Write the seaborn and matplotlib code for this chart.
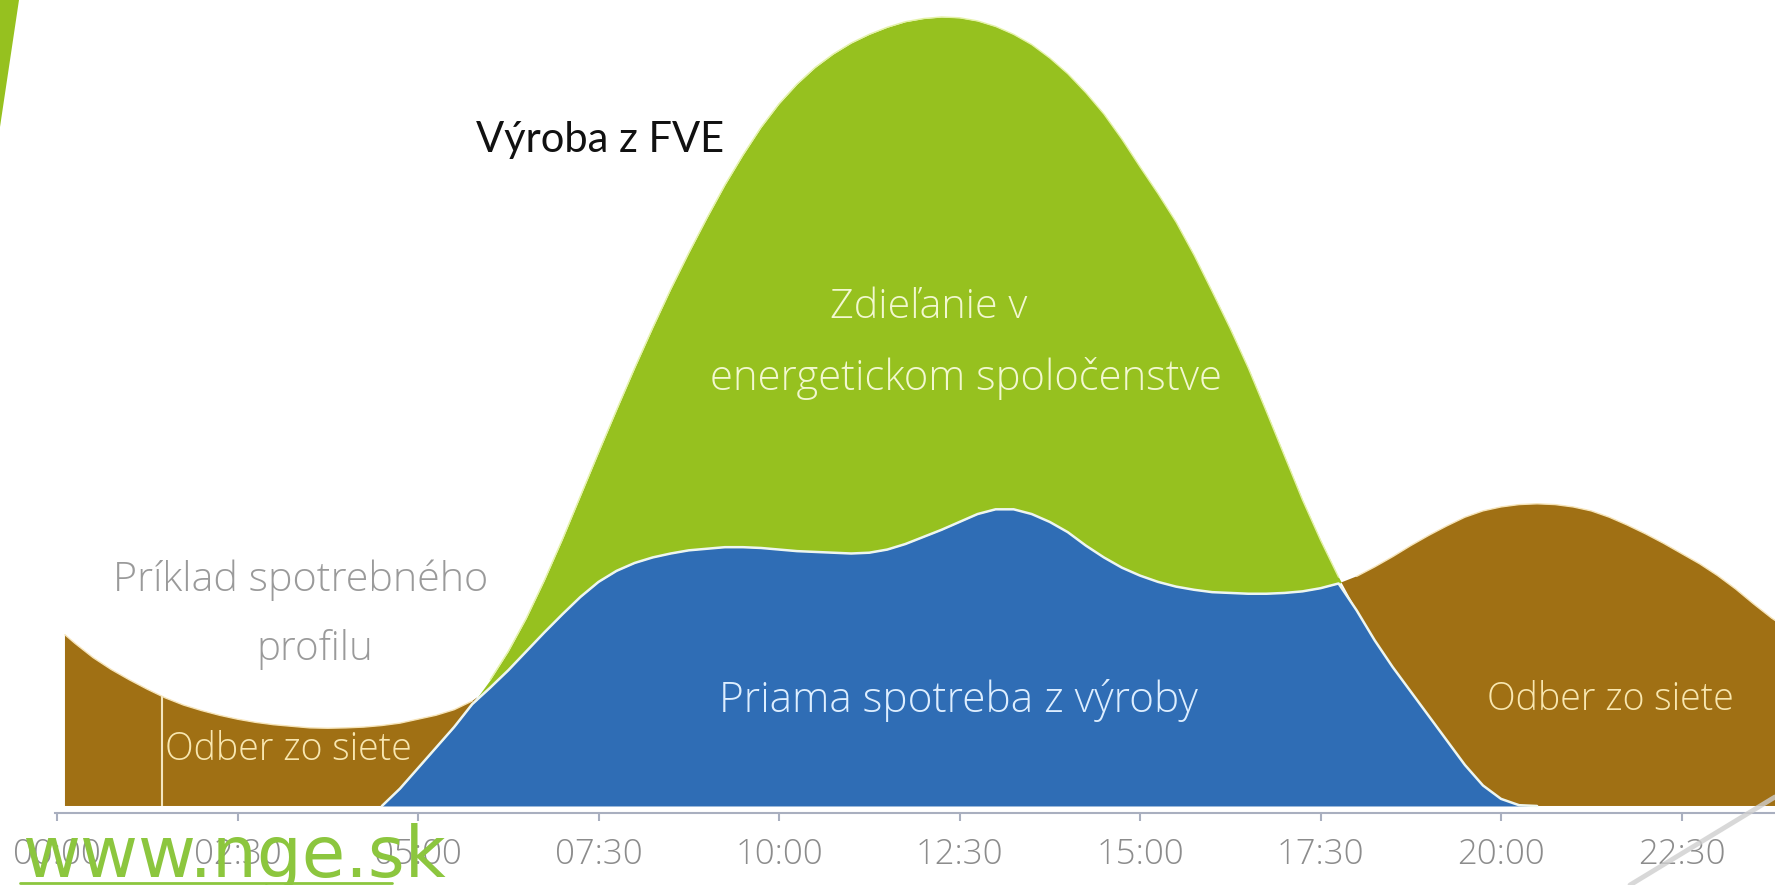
import numpy as np
import matplotlib
matplotlib.use("Agg")
import matplotlib.pyplot as plt
import seaborn as sns
from matplotlib.patches import Polygon
from matplotlib.lines import Line2D

# Data (hours of the day, relative power)
# hours: first visible point, then every quarter hour, then the right edge
hours = [0.11] + [k * 0.25 for k in range(1, 96)] + [23.8]

consumption = [2.17,
               2.06, 1.88, 1.73, 1.60,
               1.48, 1.37, 1.28, 1.21,
               1.15, 1.10, 1.06, 1.03,
               1.01, 0.99, 0.985, 0.99,
               1.00, 1.02, 1.05, 1.10,
               1.15, 1.22, 1.33, 1.50,
               1.72, 1.96, 2.20, 2.43,
               2.65, 2.84, 2.98, 3.08,
               3.15, 3.20, 3.24, 3.26,
               3.28, 3.28, 3.27, 3.25,
               3.23, 3.22, 3.21, 3.20,
               3.21, 3.25, 3.32, 3.41,
               3.50, 3.60, 3.70, 3.76,
               3.76, 3.70, 3.60, 3.47,
               3.30, 3.15, 3.02, 2.92,
               2.84, 2.78, 2.74, 2.71,
               2.70, 2.69, 2.69, 2.70,
               2.72, 2.76, 2.82, 2.91,
               3.03, 3.16, 3.30, 3.43,
               3.55, 3.66, 3.74, 3.79,
               3.82, 3.83, 3.82, 3.79,
               3.74, 3.66, 3.56, 3.45,
               3.33, 3.20, 3.07, 2.92,
               2.75, 2.56, 2.38,
               2.35]

production = [0,
              0, 0, 0, 0,
              0, 0, 0, 0,
              0, 0, 0, 0,
              0, 0, 0, 0,
              0, 0, 0.22, 0.48,
              0.74, 1.00, 1.29, 1.60,
              1.96, 2.38, 2.86, 3.38,
              3.93, 4.48, 5.02, 5.55,
              6.06, 6.55, 7.01, 7.45,
              7.87, 8.25, 8.60, 8.90,
              9.15, 9.36, 9.53, 9.67,
              9.78, 9.87, 9.94, 9.98,
              10.0, 9.99, 9.95, 9.88,
              9.78, 9.65, 9.48, 9.28,
              9.04, 8.77, 8.45, 8.10,
              7.76, 7.40, 6.98, 6.52,
              6.05, 5.55, 5.00, 4.44,
              3.88, 3.37, 2.90, 2.48,
              2.10, 1.76, 1.45, 1.14,
              0.83, 0.52, 0.26, 0.09,
              0.01, 0, 0, 0,
              0, 0, 0, 0,
              0, 0, 0, 0,
              0, 0, 0,
              0]

tick_hours = [0, 2.5, 5, 7.5, 10, 12.5, 15, 17.5, 20, 22.5]
tick_labels = ["00:00", "02:30", "05:00", "07:30", "10:00",
               "12:30", "15:00", "17:30", "20:00", "22:30"]
marker_hour = 1.45

GREEN = "#96C11F"
BLUE = "#2F6DB5"
BROWN = "#A07014"

sns.set_theme(style="white")
plt.rcParams["font.family"] = ["Open Sans", "DejaVu Sans"]

h = np.array(hours)
c = np.array(consumption)
p = np.array(production)
direct = np.minimum(c, p)

W, H = 1775, 885
fig = plt.figure(figsize=(W / 100, H / 100), dpi=100)
fig.patch.set_facecolor("white")
ax = fig.add_axes([55 / W, 72 / H, 1 - 55 / W, 1 - 72 / H])
ax.set_facecolor("none")

# stacked areas
ax.fill_between(h, 0, direct, color=BLUE, lw=0)
ax.fill_between(h, c, p, where=p >= c, interpolate=True, color=GREEN, lw=0)
ax.fill_between(h, p, c, where=c >= p, interpolate=True, color=BROWN, lw=0)

# outlines
ax.plot(h, np.where(p >= c, p, np.nan), color="#E4F2A8", lw=1.0)
ax.plot(h, np.where(c >= p, c, np.nan), color="#F6E4B8", lw=1.0)
mask = (h >= 4.5) & (h <= 20.5)
ax.plot(h[mask], direct[mask], color="#EEF6F0", lw=1.8, solid_capstyle="round")
ax.vlines(marker_hour, 0, np.interp(marker_hour, h, c), color="#F4E6C0", lw=1.5)

ax.set_xlim(-0.028, 23.795)
ax.set_ylim(-0.089, 10.215)
ax.set_xticks(tick_hours)
ax.set_xticklabels(tick_labels, fontweight="light")
ax.set_yticks([])
sns.despine(ax=ax, left=True, top=True, right=True)
ax.spines["bottom"].set_color("#A9AFBF")
ax.spines["bottom"].set_linewidth(1.5)
ax.tick_params(axis="x", direction="out", length=6, width=1.5, color="#A9AFBF",
               labelcolor="#8C8C8C", labelsize=25, pad=12, bottom=True)

def fx(px):
    return px / W

def fy(py):
    return 1 - py / H

txt = dict(ha="center", va="center", family=["Open Sans", "DejaVu Sans"], fontweight="light")
fig.text(fx(600), fy(140), "Výroba z FVE", color="#111111", fontsize=30,
         ha="center", va="center", family=["Lato", "DejaVu Sans"])
fig.text(fx(929), fy(308), "Zdieľanie v", color="#F2F8D0", fontsize=29.7, **txt)
fig.text(fx(966), fy(379), "energetickom spoločenstve", color="#F2F8D0", fontsize=30.2, **txt)
fig.text(fx(301), fy(580), "Príklad spotrebného", color="#9A9A9A", fontsize=29.8, **txt)
fig.text(fx(315), fy(650), "profilu", color="#9A9A9A", fontsize=29, **txt)
fig.text(fx(958), fy(700), "Priama spotreba z výroby", color="#DDEEFF", fontsize=30.5, **txt)
fig.text(fx(288), fy(750), "Odber zo siete", color="#F8E7B0", fontsize=27, **txt)
fig.text(fx(1610), fy(700), "Odber zo siete", color="#F8E7B0", fontsize=27, **txt)

# slide decorations
fig.patches.append(Polygon([[0, 1], [fx(19), 1], [0, fy(127)]], closed=True,
                           transform=fig.transFigure, facecolor=GREEN, edgecolor="none"))
fig.lines.append(Line2D([fx(1630), fx(1775)], [fy(885), fy(797)], transform=fig.transFigure,
                        color="#CFCFCF", lw=3.5, alpha=0.8))

# watermark
fig.text(fx(22), fy(877), "www.nge.sk", color="#8CC63E", fontsize=51,
         ha="left", va="baseline", family="DejaVu Sans")
fig.lines.append(Line2D([fx(20), fx(392)], [fy(883), fy(883)], transform=fig.transFigure,
                        color="#8CC63E", lw=2))

fig.savefig("out.png", dpi=100)
